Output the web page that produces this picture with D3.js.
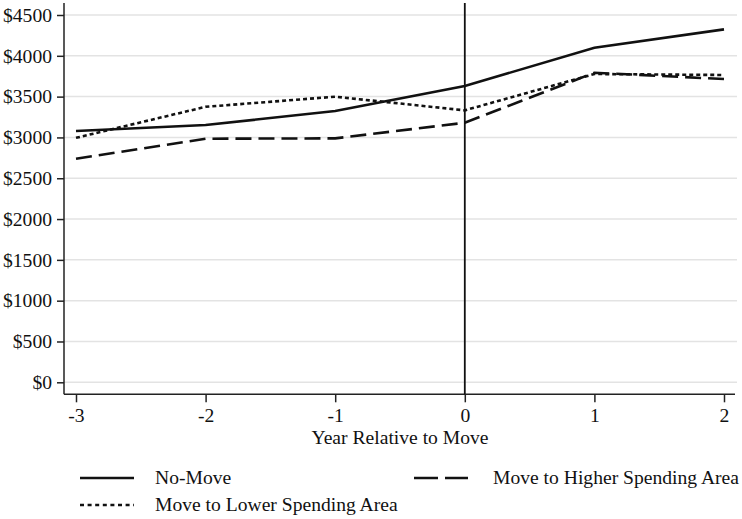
<!DOCTYPE html>
<html><head><meta charset="utf-8">
<script src="https://cdn.jsdelivr.net/npm/d3@7/dist/d3.min.js"></script>
<style>body{margin:0;background:#fff}svg{display:block}text{font-family:"Liberation Serif","Times New Roman",serif}</style>
</head><body><svg id="c" width="742" height="519"></svg>
<script>
const years = [-3, -2, -1, 0, 1, 2];
const noMove = [3079, 3152, 3323, 3630, 4099, 4324];
const moveHigher = [2739, 2984, 2989, 3180, 3793, 3715];
const moveLower = [2995, 3375, 3499, 3332, 3777, 3765];
const yTicks = [0, 500, 1000, 1500, 2000, 2500, 3000, 3500, 4000, 4500];
const xTitle = "Year Relative to Move";
const seriesNames = ["No-Move", "Move to Higher Spending Area", "Move to Lower Spending Area"];

const svg = d3.select("#c");
const x = d3.scaleLinear().domain([-3, 2]).range([76, 724]);
const y = d3.scaleLinear().domain([0, 4500]).range([382.3, 15]);
const plotL = 64, plotR = 737, axisY = 394.3, plotT = 3;
const fs = 19.6;

svg.append("g").selectAll("line").data(yTicks).join("line")
  .attr("x1", plotL).attr("x2", plotR)
  .attr("y1", d => y(d)).attr("y2", d => y(d))
  .attr("stroke", "#e3e3e3").attr("stroke-width", 1.5);

const ya = svg.append("g").attr("transform", `translate(${plotL},0)`)
  .call(d3.axisLeft(y).tickValues(yTicks).tickSize(7).tickPadding(5).tickFormat(d => "$" + d));
ya.select(".domain").attr("d", `M0,${plotT}V${axisY}`).attr("stroke", "#222").attr("stroke-width", 1.5);
ya.selectAll(".tick line").attr("stroke", "#222").attr("stroke-width", 1.5);
ya.selectAll(".tick text").attr("font-size", fs).attr("fill", "#111")
  .attr("font-family", "Liberation Serif");

const xa = svg.append("g").attr("transform", `translate(0,${axisY})`)
  .call(d3.axisBottom(x).tickValues(years).tickSize(8).tickPadding(6).tickFormat(d3.format("d")));
xa.select(".domain").attr("d", `M${plotL},0H${plotR - 2}`).attr("stroke", "#222").attr("stroke-width", 1.5);
xa.selectAll(".tick line").attr("stroke", "#222").attr("stroke-width", 1.5);
xa.selectAll(".tick text").attr("font-size", fs).attr("fill", "#111")
  .attr("font-family", "Liberation Serif").text(d => d < 0 ? "-" + Math.abs(d) : d);

svg.append("text").attr("x", 400).attr("y", 444).attr("text-anchor", "middle")
  .attr("font-size", fs).attr("fill", "#111").text(xTitle);

svg.append("line").attr("x1", x(0)).attr("x2", x(0)).attr("y1", plotT).attr("y2", axisY)
  .attr("stroke", "#111").attr("stroke-width", 1.8);

const dashes = [null, "16,7", "4,3"];
const data = [noMove, moveHigher, moveLower];
const line = d3.line().x((d, i) => x(years[i])).y(d => y(d));
data.forEach((s, k) => {
  svg.append("path").attr("d", line(s)).attr("fill", "none")
    .attr("stroke", "#111").attr("stroke-width", 2.6)
    .attr("stroke-dasharray", dashes[k]);
});

const legPos = [
  {kx: 80, tx: 155, y: 478},
  {kx: 414, tx: 493, y: 478},
  {kx: 80, tx: 155, y: 505}
];
const legDash = [null, "24,7", "4,3.6"];
legPos.forEach((p, k) => {
  svg.append("line").attr("x1", p.kx).attr("x2", p.kx + 54).attr("y1", p.y).attr("y2", p.y)
    .attr("stroke", "#111").attr("stroke-width", 2.6)
    .attr("stroke-dasharray", legDash[k]);
  svg.append("text").attr("x", p.tx).attr("y", p.y + 6).attr("font-size", fs)
    .attr("fill", "#111").text(seriesNames[k]);
});
</script></body></html>
